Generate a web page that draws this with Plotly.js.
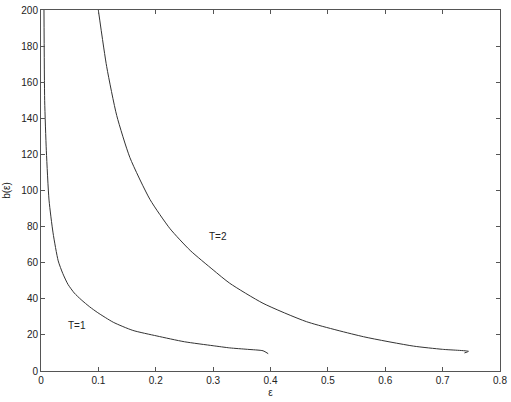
<!DOCTYPE html>
<html>
<head>
<meta charset="utf-8">
<script src="https://cdn.plot.ly/plotly-3.0.1.min.js"></script>
<style>
  html, body { margin: 0; padding: 0; background: #fff; }
  #plot { width: 511px; height: 402px; }
</style>
</head>
<body>
<div id="plot"></div>
<script>
// curve T=1
const eps_t1 = [0.0052, 0.0064, 0.0093, 0.014, 0.021, 0.030, 0.038, 0.047, 0.058, 0.070, 0.085, 0.099, 0.126, 0.160, 0.202, 0.250, 0.300, 0.329, 0.360, 0.387, 0.396];
const b_t1   = [200, 150, 122, 94.7, 76.5, 61.0, 54.0, 48.0, 43.2, 39.5, 35.5, 32.3, 27.0, 22.5, 19.4, 16.2, 14.0, 12.8, 12.0, 11.2, 9.6];

// curve T=2
const eps_t2 = [0.0999, 0.1145, 0.132, 0.155, 0.190, 0.225, 0.260, 0.300, 0.329, 0.387, 0.463, 0.562, 0.649, 0.700, 0.745, 0.738];
const b_t2   = [200, 168.6, 141.5, 118.2, 95.0, 78.8, 66.8, 56.0, 48.6, 37.5, 27.3, 19.0, 13.8, 12.0, 10.9, 10.0];

// curve labels
const labelText = ["T=1", "T=2"];
const labelX = [0.063, 0.308];
const labelY = [25, 74.4];

const FONT = "Liberation Sans, Arial, sans-serif";
const lineStyle = { color: "#333333", width: 1, shape: "spline", smoothing: 0.6 };

const traces = [
  { x: eps_t1, y: b_t1, mode: "lines", line: lineStyle, hoverinfo: "none" },
  { x: eps_t2, y: b_t2, mode: "lines", line: lineStyle, hoverinfo: "none" },
];

const axisCommon = {
  showgrid: false,
  zeroline: false,
  showline: true,
  mirror: "ticks",
  linecolor: "#555555",
  linewidth: 1,
  ticks: "inside",
  ticklen: 4,
  tickcolor: "#555555",
  tickfont: { family: FONT, size: 10, color: "#222" },
};

const layout = {
  width: 511,
  height: 402,
  showlegend: false,
  paper_bgcolor: "#fff",
  plot_bgcolor: "#fff",
  margin: { l: 41, r: 11, t: 10, b: 31 },
  xaxis: Object.assign({}, axisCommon, {
    range: [0, 0.8],
    tickvals: [0, 0.1, 0.2, 0.3, 0.4, 0.5, 0.6, 0.7, 0.8],
    ticktext: ["0", "0.1", "0.2", "0.3", "0.4", "0.5", "0.6", "0.7", "0.8"],
    title: { text: "ε", standoff: 3, font: { family: FONT, size: 10, color: "#222" } },
  }),
  yaxis: Object.assign({}, axisCommon, {
    range: [0, 200],
    dtick: 20,
    title: { text: "b(ε)", standoff: 8, font: { family: FONT, size: 10, color: "#222" } },
  }),
  annotations: labelText.map((t, i) => ({
    x: labelX[i], y: labelY[i], text: t, showarrow: false,
    font: { family: FONT, size: 10, color: "#222" },
  })),
};

Plotly.newPlot("plot", traces, layout, { displayModeBar: false, staticPlot: true });
</script>
</body>
</html>
